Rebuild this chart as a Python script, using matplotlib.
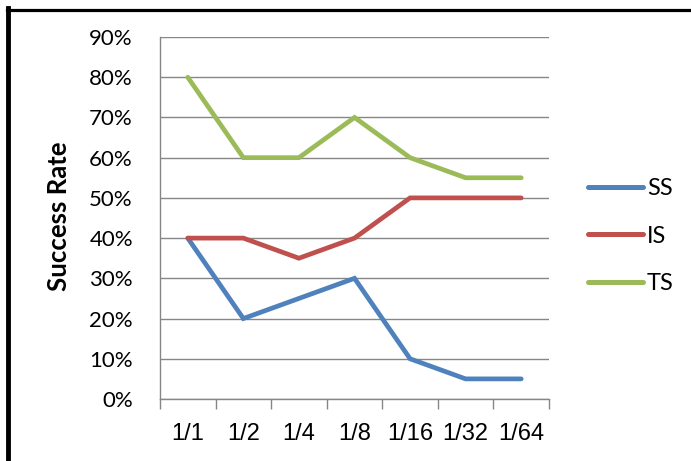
import matplotlib
matplotlib.use("Agg")
import matplotlib.pyplot as plt
from matplotlib.ticker import PercentFormatter
from matplotlib.lines import Line2D

categories = ["1/1", "1/2", "1/4", "1/8", "1/16", "1/32", "1/64"]
ss = [0.40, 0.20, 0.25, 0.30, 0.10, 0.05, 0.05]
is_ = [0.40, 0.40, 0.35, 0.40, 0.50, 0.50, 0.50]
ts = [0.80, 0.60, 0.60, 0.70, 0.60, 0.55, 0.55]
yticks = [0.0, 0.1, 0.2, 0.3, 0.4, 0.5, 0.6, 0.7, 0.8, 0.9]

plt.rcParams['font.family'] = ['Lato', 'DejaVu Sans']

W, H = 691, 461
fig = plt.figure(figsize=(W / 100, H / 100), dpi=100)
ax = fig.add_axes([160 / W, 1 - 399 / H, (549 - 160) / W, (399 - 37) / H])

x = list(range(len(categories)))
colors = {"SS": "#4F81BD", "IS": "#C0504D", "TS": "#9BBB59"}
for name, vals in [("SS", ss), ("IS", is_), ("TS", ts)]:
    ax.plot(x, vals, color=colors[name], lw=3.4, solid_capstyle="round",
            solid_joinstyle="miter", label=name, zorder=3)

ax.set_xlim(-0.5, len(categories) - 0.5)
ax.set_ylim(0, 0.9)
ax.set_yticks(yticks)
ax.yaxis.set_major_formatter(PercentFormatter(1.0, decimals=0))
ax.grid(axis="y", color="#868686", lw=1.0)
ax.set_axisbelow(True)

ax.set_xticks(x)
ax.set_xticklabels(categories, family=['Liberation Sans', 'DejaVu Sans'])
ax.set_xticks([i - 0.5 for i in range(len(categories) + 1)], minor=True)
ax.tick_params(axis="x", which="major", length=0, pad=17, labelsize=17)
ax.tick_params(axis="x", which="minor", length=7, color="#868686", width=1)
ax.tick_params(axis="y", length=0, pad=19.5, labelsize=16)

for s in ["top", "right"]:
    ax.spines[s].set_visible(False)
for s in ["left", "bottom"]:
    ax.spines[s].set_color("#868686")
    ax.spines[s].set_linewidth(1.0)

ax.set_ylabel("Success Rate", fontsize=18.5, fontweight="bold")
ax.yaxis.set_label_coords(71 / W, 1 - 216 / H, transform=fig.transFigure)

handles = [Line2D([0], [0], color=colors[n], lw=3.6, solid_capstyle="round") for n in ["SS", "IS", "TS"]]
leg = fig.legend(handles, ["SS", "IS", "TS"], loc="center left",
                 bbox_to_anchor=(588 / W, 1 - 236 / H), frameon=False,
                 fontsize=17, handlelength=2.33, handletextpad=0.17,
                 labelspacing=1.12, borderpad=0, borderaxespad=0)

# figure border: top and left
fig.add_artist(Line2D([7 / W, 1], [1 - 9.7 / H, 1 - 9.7 / H], transform=fig.transFigure, color="black", lw=2.3))
fig.add_artist(Line2D([7.5 / W, 7.5 / W], [0, 1 - 8 / H], transform=fig.transFigure, color="black", lw=3.5))

fig.savefig("out.png", dpi=100)
